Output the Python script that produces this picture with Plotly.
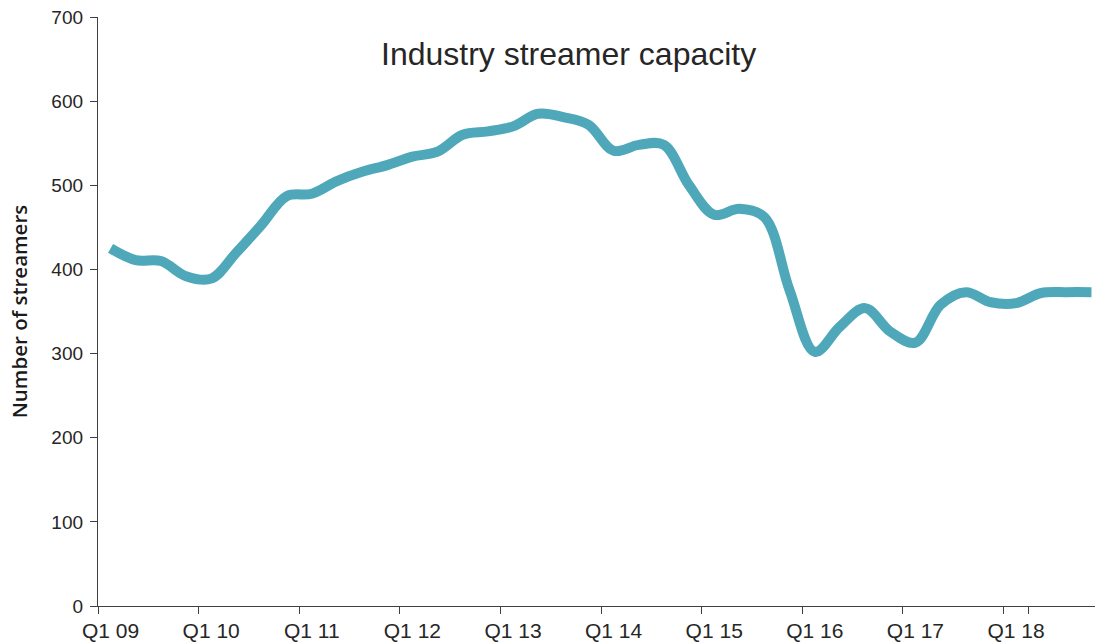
import plotly.graph_objects as go

# Quarterly categories Q1 09 .. Q4 18
years = ["09", "10", "11", "12", "13", "14", "15", "16", "17", "18"]
quarters = [f"Q{q} {y}" for y in years for q in (1, 2, 3, 4)]
year_ticks = [f"Q1 {y}" for y in years]

# Number of streamers in the industry, one value per quarter
streamers = [
    425, 411, 410, 392,
    389, 420, 453, 487,
    490, 505, 516, 524,
    534, 540, 560, 564,
    570, 585, 581, 572,
    541, 548, 548, 500,
    465, 472, 462, 375,
    302, 332, 354, 326,
    313, 358, 373, 361,
    360, 372, 373, 373,
]

y_ticks = [0, 100, 200, 300, 400, 500, 600, 700]

axis_color = "#404040"
text_color = "#262626"
line_color = "#4EA8B9"
sans = "Arial"

fig = go.Figure(
    go.Scatter(
        x=quarters,
        y=streamers,
        mode="lines",
        line=dict(color=line_color, width=10, shape="spline", smoothing=1.0),
        hoverinfo="x+y",
    )
)

fig.update_layout(
    width=1095,
    height=644,
    margin=dict(l=98, r=0, t=17, b=38),
    paper_bgcolor="white",
    plot_bgcolor="white",
    showlegend=False,
    xaxis=dict(
        type="category",
        categoryorder="array",
        categoryarray=quarters,
        range=[-0.5, 39.14],
        tickmode="array",
        tickvals=year_ticks,
        ticktext=year_ticks,
        tickson="boundaries",
        tickangle=0,
        ticks="outside",
        ticklen=7,
        tickwidth=1.3,
        tickcolor=axis_color,
        ticklabelstandoff=6,
        showline=True,
        linecolor=axis_color,
        linewidth=1.3,
        showgrid=False,
        zeroline=False,
        automargin=False,
        tickfont=dict(family=sans, size=21, color=text_color),
    ),
    yaxis=dict(
        range=[0, 700],
        tickmode="array",
        tickvals=y_ticks,
        ticks="outside",
        ticklen=7,
        tickwidth=1.3,
        tickcolor=axis_color,
        ticklabelstandoff=3,
        showline=True,
        linecolor=axis_color,
        linewidth=1.3,
        showgrid=False,
        zeroline=False,
        automargin=False,
        tickfont=dict(family=sans, size=19, color=text_color),
        title=dict(
            text="Number of streamers",
            font=dict(family="Open Sans", size=20.5, color="#1a1a1a", weight=600),
            standoff=18,
        ),
    ),
    annotations=[
        dict(
            text="Industry streamer capacity",
            xref="paper",
            yref="paper",
            x=0.4724,
            y=0.938,
            xanchor="center",
            yanchor="middle",
            showarrow=False,
            font=dict(family=sans, size=32, color=text_color),
        )
    ],
)

fig.write_html("out.html")
